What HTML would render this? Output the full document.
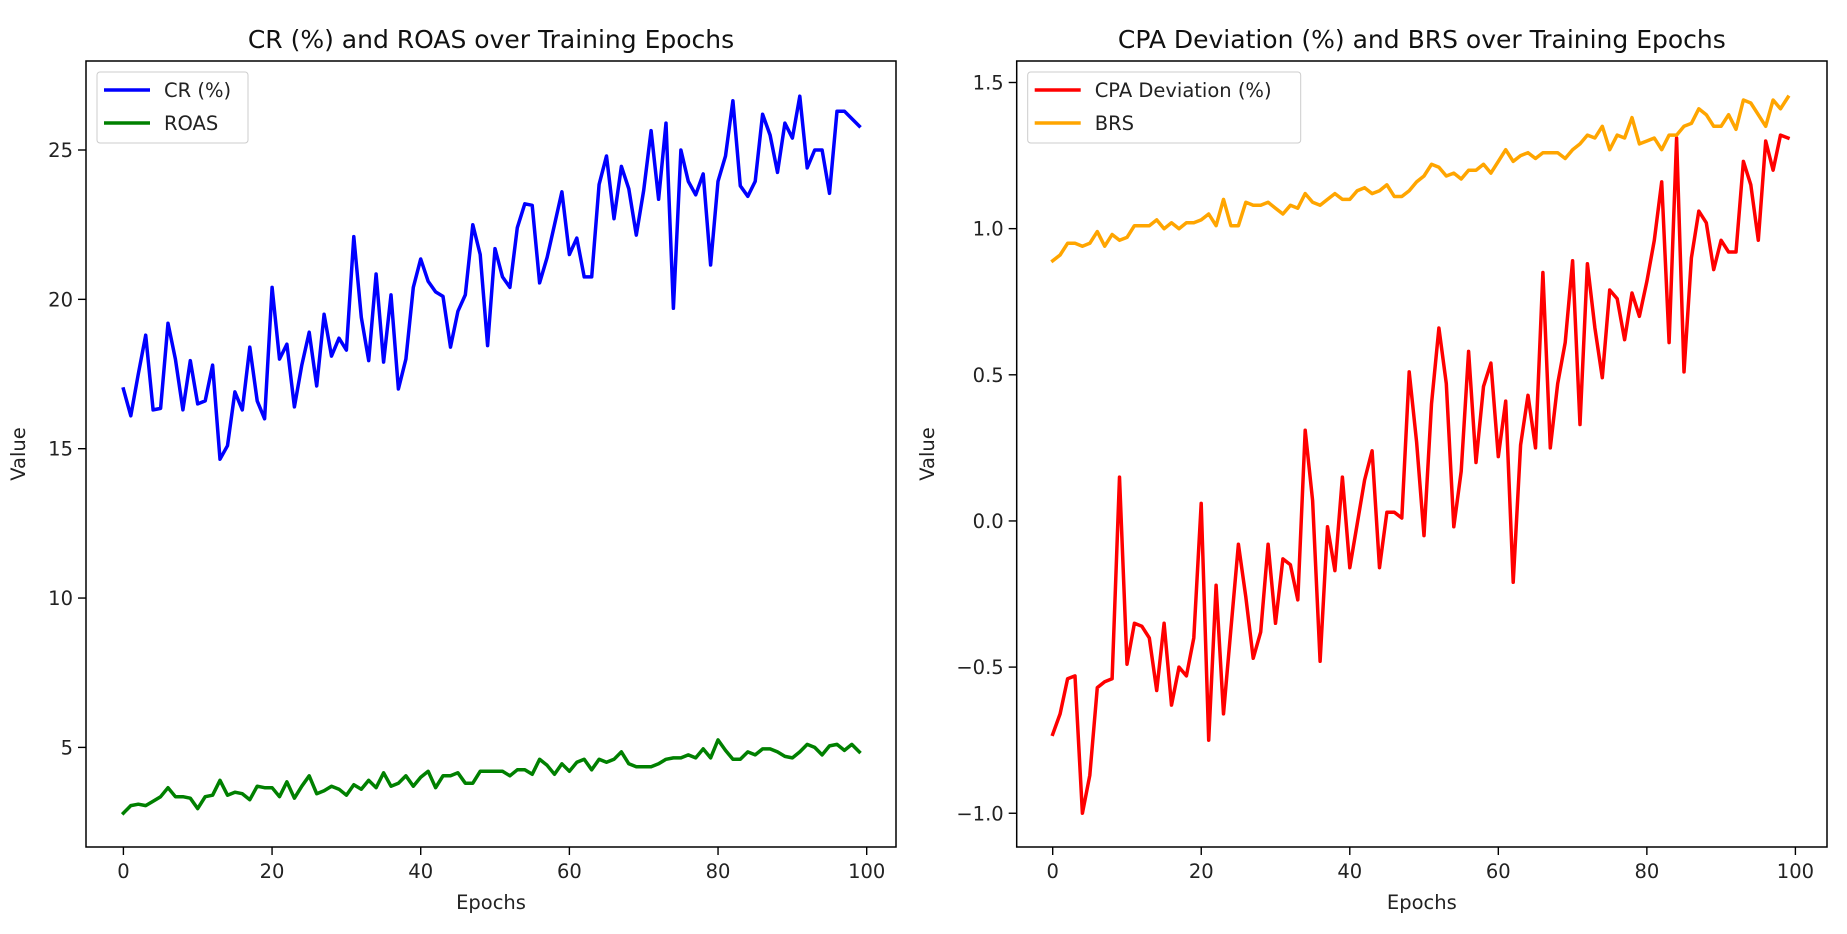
<!DOCTYPE html>
<html><head><meta charset="utf-8"><style>
html,body{margin:0;padding:0;background:#fff;}
svg{display:block;font-family:"DejaVu Sans","Liberation Sans",sans-serif;}
</style></head><body>
<svg id="fig" width="1847" height="934" viewBox="0 0 1847 934" xmlns="http://www.w3.org/2000/svg"></svg>
<script>
const epochs = Array.from({length:100},(_,i)=>i);
const crValues = [17.0,16.1,17.5,18.8,16.3,16.35,19.2,18.0,16.3,17.95,16.5,16.6,17.8,14.65,15.1,16.9,16.3,18.4,16.6,16.0,20.4,18.0,18.5,16.4,17.8,18.9,17.1,19.5,18.1,18.7,18.3,22.1,19.4,17.95,20.85,17.9,20.15,17.0,18.0,20.4,21.35,20.6,20.25,20.1,18.4,19.6,20.15,22.5,21.5,18.45,21.7,20.75,20.4,22.4,23.2,23.15,20.55,21.4,22.5,23.6,21.5,22.05,20.75,20.75,23.85,24.8,22.7,24.45,23.7,22.15,23.65,25.65,23.35,25.9,19.7,25.0,23.95,23.5,24.2,21.15,23.95,24.8,26.65,23.8,23.45,23.95,26.2,25.5,24.25,25.9,25.4,26.8,24.4,25.0,25.0,23.55,26.3,26.3,26.05,25.8];
const roasValues = [2.8,3.05,3.1,3.05,3.2,3.35,3.65,3.35,3.35,3.3,2.95,3.35,3.4,3.9,3.4,3.5,3.45,3.25,3.7,3.65,3.65,3.35,3.85,3.3,3.7,4.05,3.45,3.55,3.7,3.6,3.4,3.75,3.6,3.9,3.65,4.15,3.7,3.8,4.05,3.7,4.0,4.2,3.65,4.05,4.05,4.15,3.8,3.8,4.2,4.2,4.2,4.2,4.05,4.25,4.25,4.1,4.6,4.4,4.1,4.45,4.2,4.5,4.6,4.25,4.6,4.5,4.6,4.85,4.45,4.35,4.35,4.35,4.45,4.6,4.65,4.65,4.75,4.65,4.95,4.65,5.25,4.9,4.6,4.6,4.85,4.75,4.95,4.95,4.85,4.7,4.65,4.85,5.1,5.0,4.75,5.05,5.1,4.9,5.1,4.85];
const cpaValues = [-0.73,-0.66,-0.54,-0.53,-1.0,-0.87,-0.57,-0.55,-0.54,0.15,-0.49,-0.35,-0.36,-0.40,-0.58,-0.35,-0.63,-0.50,-0.53,-0.40,0.06,-0.75,-0.22,-0.66,-0.37,-0.08,-0.26,-0.47,-0.38,-0.08,-0.35,-0.13,-0.15,-0.27,0.31,0.07,-0.48,-0.02,-0.17,0.15,-0.16,-0.01,0.14,0.24,-0.16,0.03,0.03,0.01,0.51,0.27,-0.05,0.40,0.66,0.47,-0.02,0.17,0.58,0.20,0.46,0.54,0.22,0.41,-0.21,0.26,0.43,0.25,0.85,0.25,0.47,0.61,0.89,0.33,0.88,0.66,0.49,0.79,0.76,0.62,0.78,0.70,0.82,0.96,1.16,0.61,1.31,0.51,0.90,1.06,1.02,0.86,0.96,0.92,0.92,1.23,1.15,0.96,1.30,1.20,1.32,1.31];
const brsValues = [0.89,0.91,0.95,0.95,0.94,0.95,0.99,0.94,0.98,0.96,0.97,1.01,1.01,1.01,1.03,1.0,1.02,1.0,1.02,1.02,1.03,1.05,1.01,1.10,1.01,1.01,1.09,1.08,1.08,1.09,1.07,1.05,1.08,1.07,1.12,1.09,1.08,1.10,1.12,1.10,1.10,1.13,1.14,1.12,1.13,1.15,1.11,1.11,1.13,1.16,1.18,1.22,1.21,1.18,1.19,1.17,1.20,1.20,1.22,1.19,1.23,1.27,1.23,1.25,1.26,1.24,1.26,1.26,1.26,1.24,1.27,1.29,1.32,1.31,1.35,1.27,1.32,1.31,1.38,1.29,1.30,1.31,1.27,1.32,1.32,1.35,1.36,1.41,1.39,1.35,1.35,1.39,1.34,1.44,1.43,1.39,1.35,1.44,1.41,1.45];
const xTicks = [0,20,40,60,80,100];
const leftYTicks = [5,10,15,20,25];
const rightYTicks = [-1.0,-0.5,0.0,0.5,1.0,1.5];

const NS="http://www.w3.org/2000/svg";
const svg=document.getElementById('fig');
function mk(tag,attrs,parent){const e=document.createElementNS(NS,tag);for(const k in attrs)e.setAttribute(k,attrs[k]);(parent||svg).appendChild(e);return e;}
const FS=19.5;

function panel(cfg){
  const g=mk('g',{});
  
  
  const sx=v=>cfg.x0+(v-0)*cfg.xs;
  const sy=v=>cfg.yRefPx-(v-cfg.yRef)*cfg.ys;
  cfg.series.forEach(s=>{
    const d=s.values.map((v,i)=>(i?'L':'M')+sx(epochs[i]).toFixed(1)+','+sy(v).toFixed(1)).join(' ');
    const p=mk('path',{d:d,fill:'none',stroke:s.color,'stroke-width':3.5,'stroke-linejoin':'round','stroke-linecap':'square'},g);
    
    
  });
  const fr=mk('rect',{x:cfg.L,y:cfg.T,width:cfg.R-cfg.L,height:cfg.B-cfg.T,fill:'none',stroke:'#000','stroke-width':1.5},g);
  
  
  xTicks.forEach(t=>{
    const x=sx(t);
    mk('line',{x1:x,x2:x,y1:cfg.B,y2:cfg.B+8,stroke:'#000','stroke-width':1.4},g);
    const tx=mk('text',{x:x,y:cfg.B+31,'text-anchor':'middle','font-size':FS,fill:'#222'},g);
    tx.textContent=String(t);
    
    
  });
  cfg.yTicks.forEach(t=>{
    const y=sy(t);
    mk('line',{x1:cfg.L-8,x2:cfg.L,y1:y,y2:y,stroke:'#000','stroke-width':1.4},g);
    const tx=mk('text',{x:cfg.L-13,y:y+7,'text-anchor':'end','font-size':FS,fill:'#222'},g);
    tx.textContent=cfg.fmt(t);
    
    
  });
  const xt=mk('text',{x:(cfg.L+cfg.R)/2,y:cfg.B+62,'text-anchor':'middle','font-size':FS,fill:'#222'},g);
  xt.textContent='Epochs';
  
  
  const yt=mk('text',{x:0,y:0,'text-anchor':'middle','font-size':FS,fill:'#222',transform:`translate(${cfg.yLabelX},${(cfg.T+cfg.B)/2}) rotate(-90)`},g);
  yt.textContent='Value';
  
  
  const ti=mk('text',{x:(cfg.L+cfg.R)/2,y:48,'text-anchor':'middle','font-size':25,fill:'#111'},g);
  ti.textContent=cfg.title;
  
  
  const lg=mk('g',{},g);
  
  
  mk('rect',{x:cfg.L+11,y:72,width:cfg.legW,height:71,rx:3,fill:'#fff','fill-opacity':0.8,stroke:'#ccc','stroke-width':1},lg);
  cfg.series.forEach((s,i)=>{
    const y=90+i*33;
    mk('line',{x1:cfg.L+18,x2:cfg.L+64,y1:y,y2:y,stroke:s.color,'stroke-width':3.5},lg);
    const t=mk('text',{x:cfg.L+78,y:y+7,'font-size':FS,fill:'#222'},lg);
    t.textContent=s.label;
    
    
  });
}

panel({name:'cr-roas-chart',L:86,R:896,T:61,B:847,x0:123.4,xs:7.433,yRef:25,yRefPx:150,ys:29.87,
  yTicks:leftYTicks,fmt:t=>String(t),yLabelX:25,legW:151,title:'CR (%) and ROAS over Training Epochs',
  series:[{name:'cr-line',label:'CR (%)',color:'#0000ff',values:crValues},{name:'roas-line',label:'ROAS',color:'#008000',values:roasValues}]});
panel({name:'cpa-brs-chart',L:1016.7,R:1827,T:61,B:847,x0:1052.7,xs:7.427,yRef:1.5,yRefPx:82.5,ys:292.3,
  yTicks:rightYTicks,fmt:t=>(t<0?'\u2212':'')+Math.abs(t).toFixed(1),yLabelX:934,legW:273,title:'CPA Deviation (%) and BRS over Training Epochs',
  series:[{name:'cpa-line',label:'CPA Deviation (%)',color:'#ff0000',values:cpaValues},{name:'brs-line',label:'BRS',color:'#ffa500',values:brsValues}]});
</script>
</body></html>
